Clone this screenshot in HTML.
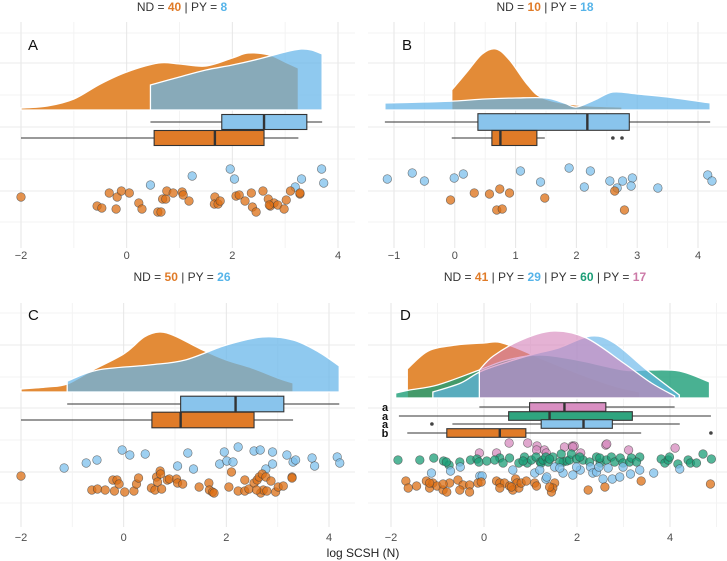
<!DOCTYPE html>
<html><head><meta charset="utf-8">
<style>
body{margin:0;background:#fff;}
svg{display:block;font-family:"Liberation Sans",sans-serif;}
</style></head>
<body>
<svg id="chart" width="727" height="561" viewBox="0 0 727 561" xmlns="http://www.w3.org/2000/svg"></svg>
<script>
// ---------- DATA ----------
const tickLabelsA = [-2, 0, 2, 4];
const tickLabelsB = [-1, 0, 1, 2, 3, 4];
const tickLabelsC = [-2, 0, 2, 4];
const tickLabelsD = [-2, 0, 2, 4];

// densities (x value, relative height)
const densA_ND_x = [-2, -1.5, -1, -0.5, 0, 0.6, 1, 1.5, 2, 2.3, 2.7, 3.0, 3.25];
const densA_ND_h = [2, 4, 11, 26, 38, 47, 46, 44, 52, 57, 55, 48, 42];
const densA_PY_x = [0.45, 1, 1.5, 2, 2.5, 3, 3.3, 3.5, 3.7];
const densA_PY_h = [25, 33, 40, 45, 51, 58, 61, 60, 56];

const densB_ND_x = [-0.05, 0.2, 0.45, 0.68, 0.9, 1.2, 1.45, 2.0, 2.75];
const densB_ND_h = [20, 38, 56, 61, 50, 25, 12, 5, 3];
const densB_PY_x = [-1.15, -0.5, 0, 0.5, 1, 1.5, 1.8, 2.0, 2.3, 2.6, 3.0, 3.5, 4.2];
const densB_PY_h = [7, 8, 9, 11, 12, 12, 7, 3, 10, 18, 16, 13, 7];

const densC_ND_x = [-2, -1.5, -1.1, -0.6, 0, 0.4, 0.7, 1.0, 1.5, 2.0, 2.5, 3.0, 3.3];
const densC_ND_h = [3, 5, 8, 22, 38, 55, 60, 56, 43, 32, 24, 14, 9];
const densC_PY_x = [-1.1, -0.5, 0.5, 1.2, 2.0, 2.7, 3.3, 3.8, 4.2];
const densC_PY_h = [11, 22, 27, 32, 47, 55, 52, 40, 26];

const densD_ND_x = [-1.65, -1.2, -0.6, 0, 0.3, 0.7, 1.2, 2.0, 2.8, 3.35];
const densD_ND_h = [29, 47, 53, 55, 56, 50, 40, 25, 12, 6];
const densD_PY1_x = [-1.1, -0.5, 0, 1, 1.6, 2.3, 2.8, 3.5, 4.2];
const densD_PY1_h = [6, 15, 28, 43, 50, 62, 55, 28, 3];
const densD_PY2_x = [-1.9, -1.6, -1.0, -0.1, 0.5, 1.2, 2.0, 3.0, 3.5, 4.2, 4.85];
const densD_PY2_h = [5, 8, 13, 28, 38, 43, 38, 28, 28, 27, 16];
const densD_PY3_x = [-0.1, 0.2, 0.8, 1.5, 2.2, 3.0, 3.6, 4.1];
const densD_PY3_h = [28, 42, 58, 67, 60, 35, 15, 2];

// box stats: [lowWhisker, q1, median, q3, highWhisker]
const boxA_ND = [-2, 0.52, 1.67, 2.6, 3.25];
const boxA_PY = [0.45, 1.8, 2.6, 3.41, 3.7];
const boxB_ND = [-0.05, 0.61, 0.75, 1.35, 1.48];
const boxB_PY = [-1.15, 0.38, 2.18, 2.87, 4.2];
const outB_ND = [2.6, 2.75];
const boxC_ND = [-2, 0.55, 1.11, 2.54, 3.3];
const boxC_PY = [-1.1, 1.11, 2.18, 3.12, 4.2];
const boxD_ND = [-1.65, -0.8, 0.34, 0.9, 3.38];
const boxD_PY1 = [-0.68, 1.23, 2.14, 2.76, 4.21];
const boxD_PY2 = [-1.83, 0.53, 1.41, 3.19, 4.88];
const boxD_PY3 = [-0.1, 0.98, 1.73, 2.62, 4.1];
const outD_ND = [4.88];
const outD_PY1 = [-1.12];

// raw points (values) and vertical jitter
const ptsA_ND = [-2.0,-0.56,-0.47,-0.33,-0.2,-0.18,-0.1,0.05,0.23,0.29,0.59,0.65,0.68,0.74,0.76,0.88,1.05,1.07,1.18,1.67,1.66,1.73,1.77,2.07,2.13,2.24,2.36,2.38,2.45,2.58,2.68,2.72,2.79,2.86,2.98,3.02,3.1,3.28,3.28,2.7];
const jitA_ND = [197,206,208,193,209,197,191,193,203,209,212,212,199,199,191,193,192,195,201,197,204,204,201,196,195,201,193,207,212,191,199,206,203,205,209,200,191,194,193,205];
const ptsA_PY = [0.45,1.24,1.96,2.04,3.19,3.31,3.69,3.73];
const jitA_PY = [185,176,169,179,187,179,169,183];

const ptsB_ND = [-0.07,0.32,0.57,0.74,0.9,0.69,0.78,1.48,2.63,2.79];
const jitB_ND = [200,193,194,189,193,210,209,198,191,210];
const ptsB_PY = [-1.11,-0.7,-0.5,-0.01,0.14,1.08,1.41,1.88,2.13,2.23,2.55,2.67,2.76,2.92,2.9,3.34,4.16,4.23];
const jitB_PY = [179,173,181,178,174,171,182,168,187,171,181,188,181,178,186,188,175,181];

const ptsC_PY = [-1.16,-0.73,-0.52,-0.03,0.12,0.42,1.05,1.25,1.36,1.87,1.96,2.01,2.13,2.23,2.54,2.66,2.77,2.9,2.9,3.18,3.3,3.35,3.67,3.72,4.16,4.21];
const jitC_PY = [198,193,190,180,185,184,196,183,199,194,182,191,192,177,181,180,199,182,194,185,192,190,188,196,187,193];
const ptsC_ND = [-2.0,-0.62,-0.51,-0.36,-0.21,-0.18,-0.13,-0.09,0.02,0.2,0.25,0.29,0.54,0.61,0.64,0.66,0.71,0.72,0.74,0.85,0.89,1.03,1.05,1.15,1.47,1.66,1.67,1.73,1.76,2.05,2.1,2.23,2.36,2.36,2.44,2.54,2.6,2.64,2.7,2.67,2.72,2.77,2.79,2.87,2.96,3.01,3.11,3.28,3.28,2.59];
const jitC_ND = [206,220,219,220,210,221,210,214,222,221,214,208,218,220,207,212,201,204,219,210,209,209,213,214,217,213,220,222,223,217,202,221,210,221,219,213,210,207,204,223,220,207,221,211,222,217,216,207,208,220];

const ptsD_PY3 = [0.54,0.94,1.14,1.3,1.34,1.73,1.9,1.94,2.08,2.62,2.64,3.11,4.11,-0.1,0.27,1.91,1.13];
const jitD_PY3 = [173,173,176,180,183,177,176,176,183,175,174,180,178,183,183,177,180];
const ptsD_PY2 = [-1.85,-1.38,-1.08,-0.87,-0.75,-0.52,-0.29,-0.15,-0.11,0.06,0.34,0.41,0.55,0.75,0.87,0.93,1.02,1.12,1.21,1.23,1.27,1.33,1.38,1.48,1.66,1.7,1.78,1.84,1.88,1.99,2.13,2.27,2.42,2.5,2.63,2.74,2.81,2.93,2.99,3.13,3.17,3.35,3.81,3.89,3.96,3.99,4.17,4.39,4.44,4.57,4.71,4.89,-0.81,0.23,0.84,1.41,2.06,3.28,1.63,2.49];
const jitD_PY2 = [190,190,188,191,195,192,190,189,192,191,188,193,188,193,187,193,190,187,192,193,190,187,192,187,184,192,191,190,184,189,190,192,187,193,190,187,192,188,193,192,188,187,189,193,190,187,194,190,193,193,184,189,192,190,191,189,187,192,192,188];
const ptsD_PY1 = [-1.13,-0.72,-0.51,-0.09,-0.04,1.09,1.2,1.33,1.35,1.52,1.7,1.91,2.07,2.29,2.34,2.42,2.56,2.67,2.76,2.92,2.99,3.15,3.35,3.65,4.21,1.63,1.99,2.47,0.62];
const jitD_PY1 = [203,201,197,206,206,203,200,209,207,197,203,205,200,197,203,202,209,198,209,207,197,204,200,203,199,198,197,197,200];
const ptsD_ND = [-1.68,-1.63,-1.45,-1.24,-1.17,-1.1,-1.01,-0.88,-0.8,-0.74,-0.56,-0.45,-0.31,-0.31,-0.13,-0.06,0.27,0.34,0.44,0.55,0.62,0.68,0.71,0.75,0.8,0.91,1.09,1.13,1.52,1.48,1.45,2.24,2.6,3.38,4.87,-1.17,-0.88,0.59,1.41,0.34,-0.52];
const jitD_ND = [211,218,216,211,218,213,216,220,222,213,210,215,215,222,213,212,211,213,213,216,220,209,213,218,213,211,213,216,213,218,222,220,217,211,214,213,214,217,217,218,220];

// ---------- RENDER ----------
const NS = "http://www.w3.org/2000/svg";
const svg = document.getElementById("chart");
const C_ND = "#e07b28", C_PY1 = "#65b5e9", C_PY2 = "#1b9e77", C_PY3 = "#d37fb8";
const BOXF = {nd:"#e07b28", py1:"#89c4ec", py2:"#2fa57f", py3:"#d98fc2"};

function el(tag, attrs, parent){
  const e = document.createElementNS(NS, tag);
  for (const k in attrs) e.setAttribute(k, attrs[k]);
  (parent||svg).appendChild(e);
  return e;
}
function scale(x0, v0, x1, v1){ return v => x0 + (v - v0) * (x1 - x0) / (v1 - v0); }

function smoothPath(pts){
  let d = "M" + pts[0][0] + "," + pts[0][1];
  for (let i = 0; i < pts.length - 1; i++){
    const p0 = pts[Math.max(0,i-1)], p1 = pts[i], p2 = pts[i+1], p3 = pts[Math.min(pts.length-1,i+2)];
    const c1x = p1[0] + (p2[0]-p0[0])/6, c1y = p1[1] + (p2[1]-p0[1])/6;
    const c2x = p2[0] - (p3[0]-p1[0])/6, c2y = p2[1] - (p3[1]-p1[1])/6;
    d += " C" + c1x + "," + c1y + " " + c2x + "," + c2y + " " + p2[0] + "," + p2[1];
  }
  return d;
}

function panel(cfg){
  const g = el("g", {});
  
  
  const xs = cfg.xs, T = cfg.top;
  // grid
  cfg.hgrid.forEach((y,i) => {
    const l = el("line", {x1:cfg.left, x2:cfg.right, y1:T+y, y2:T+y, stroke: i%2? "#ebebeb":"#f3f3f3", "stroke-width":1}, g);
    
    
  });
  for (let v = Math.ceil(cfg.dom[0]*2)/2; v <= cfg.dom[1]; v += cfg.minorStep){
    const major = cfg.ticks.indexOf(Math.round(v*100)/100) >= 0;
    const l = el("line", {x1:xs(v), x2:xs(v), y1:T+cfg.gridTop, y2:T+cfg.gridBot, stroke: major? "#e6e6e6":"#f3f3f3", "stroke-width":1}, g);
    
    
  }
  // densities
  cfg.dens.forEach(dn => {
    const base = T + cfg.base;
    const top = dn.x.map((v,i) => [xs(v), base - dn.h[i]]);
    let d = "M" + xs(dn.x[0]) + "," + base + " L" + top[0][0] + "," + top[0][1] + smoothPath(top).replace(/^M[^ ]+/, "") +
      " L" + xs(dn.x[dn.x.length-1]) + "," + base + " Z";
    const p = el("path", {d:d, fill:dn.c, "fill-opacity":dn.a, stroke:"#fff", "stroke-width":1.3}, g);
    
    
  });
  // boxes
  cfg.boxes.forEach(b => {
    const y = T + b.y, h = b.hh;
    const s = b.s;
    const w = el("line", {x1:xs(s[0]), x2:xs(s[4]), y1:y, y2:y, stroke:"#333", "stroke-width":1.1}, g);
    
    
    const r = el("rect", {x:xs(s[1]), y:y-h, width:xs(s[3])-xs(s[1]), height:2*h, fill:b.f, stroke:"#333", "stroke-width":1.1}, g);
    
    
    const m = el("line", {x1:xs(s[2]), x2:xs(s[2]), y1:y-h, y2:y+h, stroke:"#333", "stroke-width":2.4}, g);
    
    
    (b.out||[]).forEach(o => {
      const c = el("circle", {cx:xs(o), cy:y, r:1.8, fill:"#444"}, g);
      
      
    });
    if (b.label){
      const t = el("text", {x:cfg.labelX, y:y+4, "font-size":11, "font-weight":"bold", fill:"#111", "text-anchor":"middle"}, g);
      t.textContent = b.label;
      
      
    }
  });
  // points
  cfg.pts.forEach(ps => {
    ps.v.forEach((v,i) => {
      const c = el("circle", {cx:xs(v), cy:T+ps.j[i], r:4.3, fill:ps.c, "fill-opacity":0.75, stroke:"#3a3a3a", "stroke-opacity":0.7, "stroke-width":0.6}, g);
      
      
    });
  });
  // tick labels
  cfg.ticks.forEach(v => {
    const t = el("text", {x:xs(v), y:T+cfg.tickY, "font-size":11, fill:"#4d4d4d", "text-anchor":"middle"}, g);
    t.textContent = v < 0 ? "\u2212" + Math.abs(v) : String(v);
    
    
  });
  // panel letter
  const L = el("text", {x:cfg.letterX, y:T+50, "font-size":15, fill:"#111"}, g);
  L.textContent = cfg.letter;
  
  
  // title
  const tt = el("text", {x:cfg.titleX, y:T+11, "font-size":12, fill:"#333", "text-anchor":"middle"}, g);
  
  
  cfg.title.forEach(part => {
    const s = el("tspan", part[1] ? {fill:part[1], "font-weight":"bold"} : {}, tt);
    s.textContent = part[0];
  });
}

const hgrid = [33,63,95,127,159,191,222];
const hgrid2 = [43,75,107,138,170,202,233];

panel({name:"panel-a", letter:"A", letterX:28, top:0, left:0, right:355, xs:scale(21,-2,338,4), dom:[-2,4], ticks:tickLabelsA, minorStep:1,
  hgrid:hgrid, gridTop:22, gridBot:248, base:110, tickY:259, titleX:182,
  title:[["ND = "],["40",C_ND],[" | PY = "],["8","#56b4e9"]],
  dens:[{name:"density-nd", x:densA_ND_x, h:densA_ND_h, c:"#e38b37", a:1},
        {name:"density-py", x:densA_PY_x, h:densA_PY_h, c:C_PY1, a:0.73}],
  boxes:[{name:"box-py", y:122, hh:7.5, s:boxA_PY, f:BOXF.py1},
         {name:"box-nd", y:138, hh:7.5, s:boxA_ND, f:BOXF.nd}],
  pts:[{name:"point-py", v:ptsA_PY, j:jitA_PY, c:"#7dc0ec"},{name:"point-nd", v:ptsA_ND, j:jitA_ND, c:"#dc6f14"}]});

panel({name:"panel-b", letter:"B", letterX:402, top:0, left:368, right:727, xs:scale(394,-1,698,4), dom:[-1.2,4.3], ticks:tickLabelsB, minorStep:0.5,
  hgrid:hgrid, gridTop:22, gridBot:248, base:110, tickY:259, titleX:545,
  title:[["ND = "],["10",C_ND],[" | PY = "],["18","#56b4e9"]],
  dens:[{name:"density-nd", x:densB_ND_x, h:densB_ND_h, c:"#e38b37", a:1},
        {name:"density-py", x:densB_PY_x, h:densB_PY_h, c:C_PY1, a:0.73}],
  boxes:[{name:"box-py", y:122, hh:8.3, s:boxB_PY, f:BOXF.py1},
         {name:"box-nd", y:138, hh:7.5, s:boxB_ND, f:BOXF.nd, out:outB_ND}],
  pts:[{name:"point-py", v:ptsB_PY, j:jitB_PY, c:"#7dc0ec"},{name:"point-nd", v:ptsB_ND, j:jitB_ND, c:"#dc6f14"}]});

panel({name:"panel-c", letter:"C", letterX:28, top:270, left:0, right:355, xs:scale(21,-2,329,4), dom:[-2,4.3], ticks:tickLabelsC, minorStep:1,
  hgrid:hgrid2, gridTop:33, gridBot:257, base:122, tickY:271, titleX:182,
  title:[["ND = "],["50",C_ND],[" | PY = "],["26","#56b4e9"]],
  dens:[{name:"density-nd", x:densC_ND_x, h:densC_ND_h, c:"#e38b37", a:1},
        {name:"density-py", x:densC_PY_x, h:densC_PY_h, c:C_PY1, a:0.73}],
  boxes:[{name:"box-py", y:134, hh:7.8, s:boxC_PY, f:BOXF.py1},
         {name:"box-nd", y:150, hh:7.8, s:boxC_ND, f:BOXF.nd}],
  pts:[{name:"point-py", v:ptsC_PY, j:jitC_PY, c:"#7dc0ec"},{name:"point-nd", v:ptsC_ND, j:jitC_ND, c:"#dc6f14"}]});

panel({name:"panel-d", letter:"D", letterX:400, top:270, left:368, right:727, xs:scale(391,-2,670,4), dom:[-2,5], ticks:tickLabelsD, minorStep:1,
  hgrid:hgrid2, gridTop:33, gridBot:257, base:128, tickY:271, titleX:545, labelX:385,
  title:[["ND = "],["41",C_ND],[" | PY = "],["29","#56b4e9"],[" | PY = "],["60",C_PY2],[" | PY = "],["17","#cc79a7"]],
  dens:[{name:"density-nd", x:densD_ND_x, h:densD_ND_h, c:"#e38b37", a:1},
        {name:"density-py-green", x:densD_PY2_x, h:densD_PY2_h, c:C_PY2, a:0.8},
        {name:"density-py-blue", x:densD_PY1_x, h:densD_PY1_h, c:C_PY1, a:0.65},
        {name:"density-py-pink", x:densD_PY3_x, h:densD_PY3_h, c:C_PY3, a:0.6}],
  boxes:[{name:"box-py-pink", y:137, hh:4.3, s:boxD_PY3, f:BOXF.py3, label:"a"},
         {name:"box-py-green", y:146, hh:4.3, s:boxD_PY2, f:BOXF.py2, label:"a"},
         {name:"box-py-blue", y:154, hh:4.3, s:boxD_PY1, f:BOXF.py1, label:"a", out:outD_PY1},
         {name:"box-nd", y:163, hh:4.3, s:boxD_ND, f:BOXF.nd, label:"b", out:outD_ND}],
  pts:[{name:"point-py-pink", v:ptsD_PY3, j:jitD_PY3, c:"#d68bbd"},
       {name:"point-py-green", v:ptsD_PY2, j:jitD_PY2, c:"#1b9e77"},
       {name:"point-py-blue", v:ptsD_PY1, j:jitD_PY1, c:"#7dc0ec"},
       {name:"point-nd", v:ptsD_ND, j:jitD_ND, c:"#dc6f14"}]});

const xl = el("text", {x:363, y:557, "font-size":12, fill:"#222", "text-anchor":"middle"});
xl.textContent = "log SCSH (N)";


</script>
</body></html>
